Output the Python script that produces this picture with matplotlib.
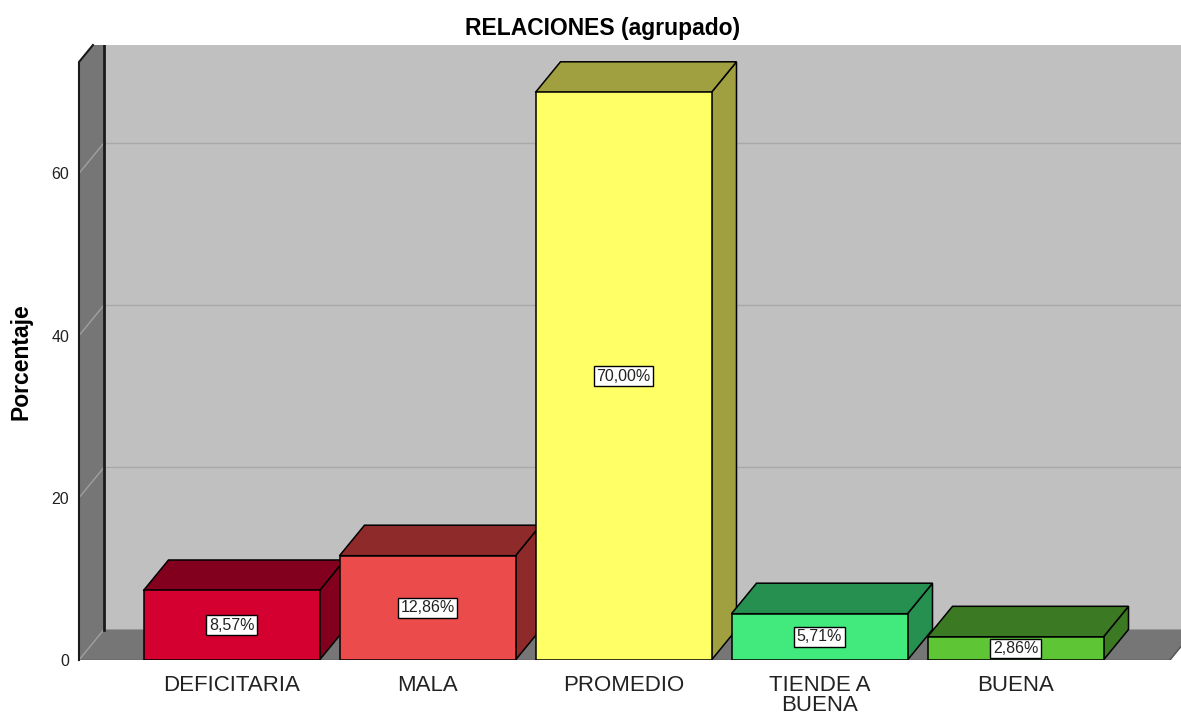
import matplotlib
matplotlib.use("Agg")
import matplotlib.pyplot as plt
from matplotlib.patches import Polygon, Rectangle

# ---- data ----
categories = ["DEFICITARIA", "MALA", "PROMEDIO", "TIENDE A\nBUENA", "BUENA"]
values = [8.57, 12.86, 70.00, 5.71, 2.86]
value_labels = ["8,57%", "12,86%", "70,00%", "5,71%", "2,86%"]
yticks = [0, 20, 40, 60]
front_colors = ["#D4002F", "#EC4B4B", "#FFFF66", "#42E97C", "#5EC535"]
top_colors = ["#82001E", "#8E2A2A", "#A0A040", "#259050", "#3B7A23"]
title = "RELACIONES (agrupado)"
ylabel = "Porcentaje"

plt.rcParams['font.family'] = ['Liberation Sans', 'DejaVu Sans']

W, H = 1181, 715
fig = plt.figure(figsize=(W / 100, H / 100), dpi=100)

# layout in pixels
ax_left_px, ax_bottom_px, ax_top_px = 79, 660, 45
ppu = 8.11          # pixels per percent
pitch = 196.0       # pixels per category
first_center_px = 231.5

ax = fig.add_axes([ax_left_px / W, (H - ax_bottom_px) / H,
                   (W - ax_left_px) / W, (ax_bottom_px - ax_top_px) / H])
x0 = (ax_left_px - first_center_px) / pitch
x1 = (W - first_center_px) / pitch
ymax = (ax_bottom_px - ax_top_px) / ppu
ax.set_xlim(x0, x1)
ax.set_ylim(0, ymax)
for s in ax.spines.values():
    s.set_visible(False)
ax.patch.set_visible(False)

dx = 25 / pitch
dy = 30.5 / ppu
bw = 176 / pitch
front_top = (ax_bottom_px - 62) / ppu

wall_dark = "#767676"
wall_light = "#C0C0C0"
grid_c = "#A8A8A8"

# back wall
ax.add_patch(Rectangle((x0 + dx, dy), x1 - x0, ymax, facecolor=wall_light,
                       edgecolor="none", zorder=0))
# floor
floor_right = (1170 - first_center_px) / pitch
ax.add_patch(Polygon([(x0, 0), (floor_right, 0), (floor_right + dx, dy), (x0 + dx, dy)],
                     closed=True, facecolor=wall_dark, edgecolor="none", zorder=1))
ax.plot([x0, floor_right], [0, 0], color="#505050", lw=1.0, zorder=1.5)
ax.plot([floor_right, floor_right + dx], [0, dy], color="#505050", lw=1.0, zorder=1.5)
# side wall
xdiag = x0 + dx * (ymax - front_top) / dy
ax.add_patch(Polygon([(x0, 0), (x0, front_top), (xdiag, ymax), (x0 + dx, ymax), (x0 + dx, dy)],
                     closed=True, facecolor=wall_dark, edgecolor="none", zorder=1))
ax.plot([x0, x0, xdiag], [0, front_top, ymax], color="#1a1a1a", lw=1.5, zorder=2,
        solid_joinstyle="miter", clip_on=False)
ax.plot([x0 + dx, x0 + dx], [dy, ymax], color="#1a1a1a", lw=2.0, zorder=2)

# gridlines
for g in yticks:
    ax.plot([x0 + dx, x1], [g + dy, g + dy], color=grid_c, lw=1.0, zorder=0.5)
    ax.plot([x0, x0 + dx], [g, g + dy], color="#A0A0A0", lw=1.0, zorder=1.6)

# bars
for i, (v, fc, tc, lab) in enumerate(zip(values, front_colors, top_colors, value_labels)):
    z = 3 + i
    l, r = i - bw / 2, i + bw / 2
    ax.add_patch(Polygon([(r, 0), (r, v), (r + dx, v + dy), (r + dx, dy)], closed=True,
                         facecolor=tc, edgecolor="black", lw=1.1, zorder=z))
    ax.add_patch(Polygon([(l, v), (l + dx, v + dy), (r + dx, v + dy), (r, v)], closed=True,
                         facecolor=tc, edgecolor="black", lw=1.1, zorder=z))
    ax.add_patch(Rectangle((l, 0), bw, v, facecolor=fc, edgecolor="black", lw=1.1, zorder=z + 0.1))
    ax.text(i, v / 2, lab, ha="center", va="center", fontsize=11.5, color="#222222",
            zorder=z + 0.2,
            bbox=dict(boxstyle="square,pad=0.15", facecolor="white", edgecolor="black", lw=1.0))

# ticks
ax.set_yticks(yticks)
ax.set_yticklabels([str(t) for t in yticks], fontsize=11.5, color="#222222")
ax.tick_params(axis="y", length=0, pad=7)
ax.set_xticks(range(len(categories)))
ax.set_xticklabels(categories, fontsize=16, color="#222222")
ax.tick_params(axis="x", length=0, pad=10.5)
for t in ax.get_xticklabels():
    t.set_linespacing(0.95)

fig.text(603 / W, 1 - 28 / H, title, ha="center", va="center", fontsize=16.5, fontweight="bold")
fig.text(21 / W, 1 - 362 / H, ylabel, ha="center", va="center", rotation=90,
         fontsize=16.5, fontweight="bold")

fig.savefig("out.png", dpi=100, facecolor="white")
